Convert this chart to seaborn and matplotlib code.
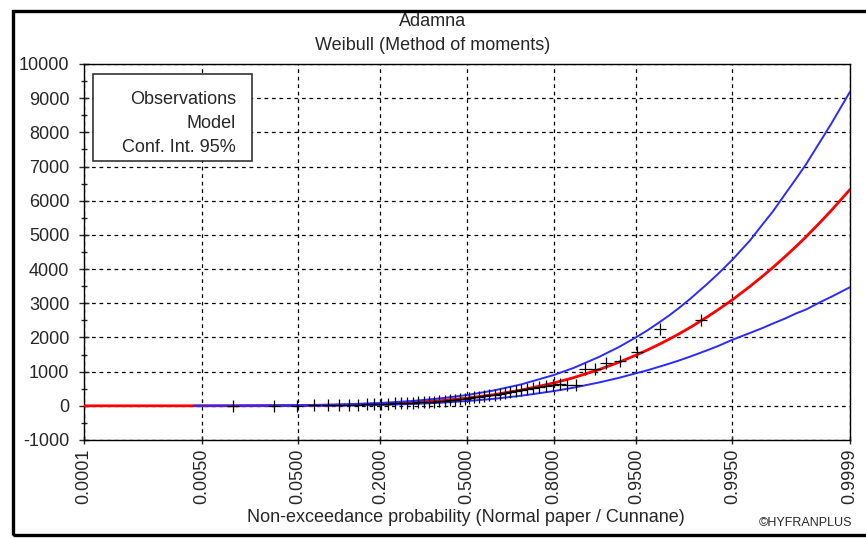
import numpy as np
import pandas as pd
import matplotlib
matplotlib.use("Agg")
import matplotlib.pyplot as plt
from matplotlib.patches import Rectangle
import seaborn as sns
from statistics import NormalDist

# ---------------- data ----------------
title_station = "Adamna"
title_model = "Weibull (Method of moments)"

# observations: non-exceedance probability (Cunnane positions, n=52) and value
obs_prob = [0.0115, 0.0307, 0.0498, 0.0690, 0.0881, 0.1073, 0.1264, 0.1456,
            0.1648, 0.1839, 0.2031, 0.2222, 0.2414, 0.2605, 0.2797, 0.2989,
            0.3180, 0.3372, 0.3563, 0.3755, 0.3946, 0.4138, 0.4330, 0.4521,
            0.4713, 0.4904, 0.5096, 0.5287, 0.5479, 0.5670, 0.5862, 0.6054,
            0.6245, 0.6437, 0.6628, 0.6820, 0.7011, 0.7203, 0.7395, 0.7586,
            0.7778, 0.7969, 0.8161, 0.8352, 0.8544, 0.8736, 0.8927, 0.9119,
            0.9310, 0.9502, 0.9693, 0.9885]
obs_value = [2, 5, 9, 14, 18, 24, 30, 36,
             42, 48, 55, 62, 68, 74, 82, 90,
             98, 106, 115, 125, 136, 150, 164, 180,
             196, 212, 230, 250, 270, 290, 310, 330,
             355, 380, 410, 440, 470, 500, 530, 560,
             590, 610, 650, 615, 620, 1090, 1090, 1240,
             1320, 1580, 2260, 2500]

# fitted model curve
model_prob = [0.0001, 0.001, 0.005, 0.01, 0.02, 0.05, 0.1, 0.2, 0.3, 0.4,
              0.5, 0.6, 0.7, 0.8, 0.85, 0.9, 0.93, 0.95, 0.96, 0.97,
              0.975, 0.98, 0.985, 0.99, 0.9925, 0.995, 0.997, 0.998, 0.9985,
              0.999, 0.9993, 0.9995, 0.9997, 0.9998, 0.9999]
model_value = [0, 0.05, 0.4, 1.0, 2.3, 7.8, 20, 52, 95, 152,
               225, 323, 459, 667, 825, 1059, 1275, 1486, 1631, 1822,
               1944, 2097, 2298, 2589, 2800, 3100, 3493, 3812, 4040,
               4369, 4660, 4939, 5376, 5722, 6330]

# 95% confidence interval
ci_prob = [0.004, 0.005, 0.01, 0.05, 0.1, 0.2, 0.3, 0.4, 0.5, 0.6,
           0.7, 0.8, 0.85, 0.9, 0.93, 0.95, 0.96, 0.97, 0.975, 0.98,
           0.985, 0.99, 0.9925, 0.995, 0.997, 0.998, 0.9985, 0.999,
           0.9993, 0.9995, 0.9997, 0.9998, 0.9999]
ci_upper = [1.2, 1.5, 3, 15, 35, 83, 143, 220, 315, 445,
            625, 900, 1110, 1430, 1721, 2010, 2205, 2470, 2638, 2850,
            3137, 3550, 3844, 4270, 4838, 5340, 5676, 6200,
            6641, 7060, 7741, 8268, 9190]
ci_lower = [0.1, 0.1, 0.3, 3, 8, 27, 54, 91, 140, 203,
            294, 430, 532, 683, 819, 955, 1039, 1157, 1231, 1321,
            1443, 1618, 1742, 1930, 2131, 2287, 2404, 2555,
            2703, 2815, 3037, 3193, 3470]

x_ticks = [0.0001, 0.0050, 0.0500, 0.2000, 0.5000, 0.8000, 0.9500, 0.9950, 0.9999]
x_tick_labels = ["0.0001", "0.0050", "0.0500", "0.2000", "0.5000",
                 "0.8000", "0.9500", "0.9950", "0.9999"]
y_ticks = [-1000, 0, 1000, 2000, 3000, 4000, 5000, 6000, 7000, 8000, 9000, 10000]

legend_lines = ["Observations", "Model", "Conf. Int. 95%"]
x_label = "Non-exceedance probability (Normal paper / Cunnane)"
credit = "\u00a9HYFRANPLUS"

# ---------------- styling ----------------
sns.set_style("ticks")
plt.rcParams["font.family"] = ["Liberation Sans", "DejaVu Sans"]
plt.rcParams["axes.linewidth"] = 1.0

W, H = 866, 538
fig = plt.figure(figsize=(W / 100, H / 100), dpi=100)
ax = fig.add_axes([84 / W, 1 - 440 / H, (850 - 84) / W, (440 - 64) / H])

# normal probability paper scale
_nd = NormalDist()
_ppf = np.vectorize(_nd.inv_cdf, otypes=[float])
_cdf = np.vectorize(_nd.cdf, otypes=[float])


def fwd(p):
    p = np.clip(np.asarray(p, dtype=float), 1e-12, 1 - 1e-12)
    return _ppf(p)


def inv(z):
    return _cdf(np.asarray(z, dtype=float))


ax.set_xscale("function", functions=(fwd, inv))

df_model = pd.DataFrame({"p": model_prob, "v": model_value})
df_up = pd.DataFrame({"p": ci_prob, "v": ci_upper})
df_lo = pd.DataFrame({"p": ci_prob, "v": ci_lower})
df_obs = pd.DataFrame({"p": obs_prob, "v": obs_value})

sns.lineplot(data=df_model, x="p", y="v", ax=ax, color="#ff0000", lw=2.0,
             estimator=None, sort=False, zorder=3)
sns.lineplot(data=df_up, x="p", y="v", ax=ax, color="#2b2bff", lw=1.4,
             estimator=None, sort=False, zorder=4)
sns.lineplot(data=df_lo, x="p", y="v", ax=ax, color="#2b2bff", lw=1.4,
             estimator=None, sort=False, zorder=4)
sns.scatterplot(data=df_obs, x="p", y="v", ax=ax, marker="+", color="black",
                s=85, linewidth=0.9, zorder=5)

ax.set_xlim(0.0001, 0.9999)
ax.set_ylim(-1000, 10000)
ax.set_xticks(x_ticks)
ax.set_xticklabels(x_tick_labels, rotation=90, fontsize=13)
ax.xaxis.set_minor_locator(matplotlib.ticker.NullLocator())
ax.set_yticks(y_ticks)
ax.set_yticklabels([str(v) for v in y_ticks], fontsize=13)
ax.set_yticks(np.arange(-500, 10000, 1000), minor=True)
ax.tick_params(axis="x", which="major", direction="inout", length=6, width=1, pad=3)
ax.tick_params(axis="y", which="major", direction="inout", length=7, width=1, pad=7)
ax.tick_params(axis="y", which="minor", direction="inout", length=4, width=1)
ax.set_xlabel("")
ax.set_ylabel("")
for s in ax.spines.values():
    s.set_visible(True)
    s.set_color("black")
    s.set_linewidth(1.0)

ax.grid(True, which="major", color="black", linestyle=(0, (3, 3)), lw=0.9)
ax.set_axisbelow(True)

# legend box (text only, right aligned)
ax.add_patch(Rectangle((93 / W, 1 - 161 / H), 159 / W, 87 / H,
                       transform=fig.transFigure, facecolor="white",
                       edgecolor="#333333", lw=1.2, zorder=8, clip_on=False))
for txt, yy in zip(legend_lines, [100, 124, 147]):
    fig.text(236 / W, 1 - yy / H, txt, ha="right", va="center", fontsize=13,
             zorder=9)

# titles and labels
fig.text(433 / W, 1 - 22 / H, title_station, ha="center", va="center", fontsize=13)
fig.text(433 / W, 1 - 46 / H, title_model, ha="center", va="center", fontsize=13)
fig.text(466 / W, 1 - 518 / H, x_label, ha="center", va="center", fontsize=13)
fig.text(852 / W, 1 - 523 / H, credit, ha="right", va="center", fontsize=9)

# outer frame
fig.add_artist(Rectangle((13 / W, 1 - 535 / H), 1.2, (535 - 11) / H,
                         transform=fig.transFigure, facecolor="none",
                         edgecolor="black", lw=2.4, clip_on=False))

fig.savefig("out.png", dpi=100)
